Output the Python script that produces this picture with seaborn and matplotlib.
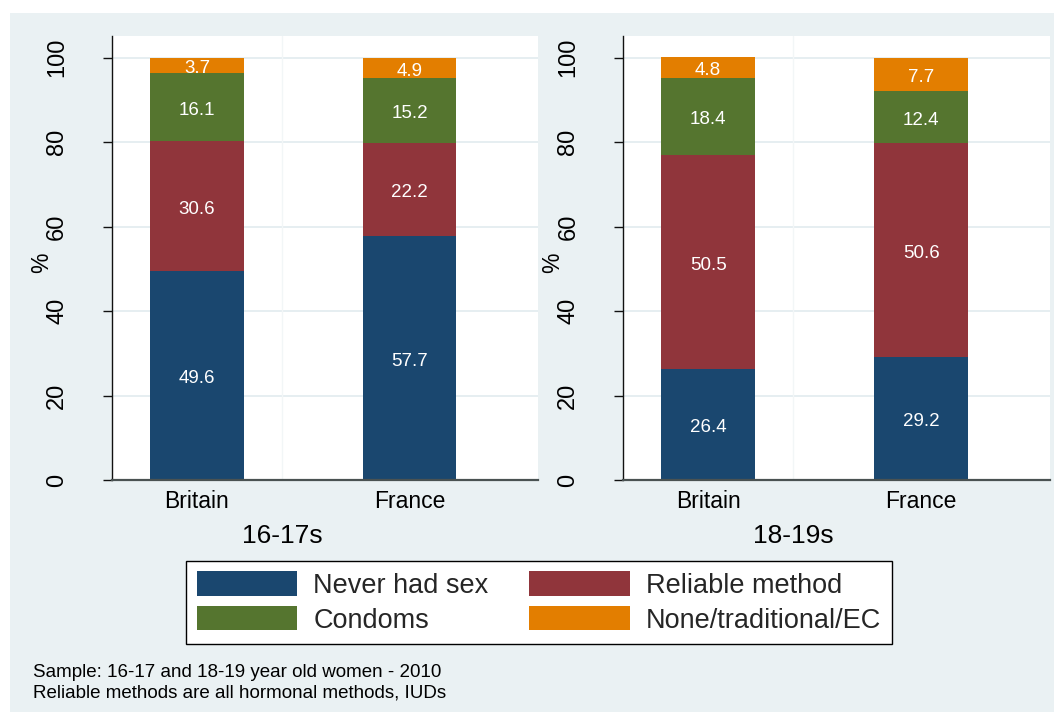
import numpy as np
import pandas as pd
import matplotlib
matplotlib.use("Agg")
import matplotlib.pyplot as plt
import matplotlib.transforms as mtransforms
from matplotlib.patches import Rectangle, Patch
import seaborn as sns

# ---------------- data ----------------
countries = ["Britain", "France"]
age_groups = ["16-17s", "18-19s"]
series_names = ["Never had sex", "Reliable method", "Condoms", "None/traditional/EC"]
never_had_sex = {"16-17s": [49.6, 57.7], "18-19s": [26.4, 29.2]}
reliable_method = {"16-17s": [30.6, 22.2], "18-19s": [50.5, 50.6]}
condoms = {"16-17s": [16.1, 15.2], "18-19s": [18.4, 12.4]}
none_trad_ec = {"16-17s": [3.7, 4.9], "18-19s": [4.8, 7.7]}
y_ticks = [0, 20, 40, 60, 80, 100]
footnotes = ["Sample: 16-17 and 18-19 year old women - 2010",
             "Reliable methods are all hormonal methods, IUDs"]

# ---------------- style ----------------
sns.set_theme(style="white")
plt.rcParams["font.family"] = ["Liberation Sans", "DejaVu Sans"]

colors = ["#1A476F", "#90353B", "#55752F", "#E37E00"]
BG = "#EAF1F3"
GRID = "#E6EEF1"

fig = plt.figure(figsize=(10.54, 7.15), dpi=100)
fig.patch.set_facecolor("white")
fig.add_artist(Rectangle((10 / 1054, 1 - 712 / 715), 1 - 10 / 1054, (712 - 12.7) / 715,
                         transform=fig.transFigure, facecolor=BG, edgecolor="none", zorder=-10))

axes_rects = [[112 / 1054, 1 - 480 / 715, 426 / 1054, 444.3 / 715],
              [623 / 1054, 1 - 480 / 715, 427 / 1054, 444.3 / 715]]

all_series = [never_had_sex, reliable_method, condoms, none_trad_ec]

for rect, grp in zip(axes_rects, age_groups):
    ax = fig.add_axes(rect)
    ax.set_facecolor("white")
    bottoms = np.zeros(len(countries))
    for name, ser, col in zip(series_names, all_series, colors):
        vals = np.array(ser[grp], dtype=float)
        df = pd.DataFrame({"country": countries, "value": vals})
        sns.barplot(data=df, x="country", y="value", order=countries, color=col,
                    saturation=1, width=0.44, bottom=bottoms, errorbar=None,
                    ax=ax, zorder=3, linewidth=0)
        for i, (v, b) in enumerate(zip(vals, bottoms)):
            ax.text(i, b + v / 2 - 0.8, f"{v:.1f}", color="white", ha="center",
                    va="center", fontsize=13.5, zorder=5)
        bottoms = bottoms + vals

    ax.set_xlim(-0.40, 1.605)
    ax.set_ylim(0, 105.2)
    ax.set_yticks(y_ticks)
    ax.set_yticklabels([str(t) for t in y_ticks])
    ax.grid(False)
    for t in y_ticks:
        ax.axhline(t, color=GRID, lw=1.4, zorder=1)
    ax.axvline(0.4, color="#F2F6F7", lw=1.0, zorder=1)

    for s in ["top", "right"]:
        ax.spines[s].set_visible(False)
    ax.spines["left"].set_color("#111111")
    ax.spines["left"].set_linewidth(1.0)
    ax.spines["bottom"].set_color("#4A5252")
    ax.spines["bottom"].set_linewidth(1.6)
    ax.spines["left"].set_zorder(6)
    ax.spines["bottom"].set_zorder(6)

    ax.tick_params(axis="y", left=True, length=6.5, width=1.0, color="#111111",
                   pad=25, labelsize=17, labelcolor="black", labelrotation=90)
    for lab in ax.get_yticklabels():
        lab.set_va("center")
    ax.tick_params(axis="x", bottom=False, length=0, pad=7, labelsize=16.5,
                   labelcolor="black")
    ax.set_xlabel("")
    ax.set_ylabel("%", fontsize=16.5, color="black", rotation=90)
    ax.yaxis.set_label_coords(-0.165, 0.49)
    ax.yaxis.label.set_va("center")
    ax.yaxis.label.set_ha("center")

    trans = mtransforms.blended_transform_factory(ax.transData, ax.transAxes)
    ax.text(0.4, -0.125, grp, transform=trans, ha="center", va="center",
            fontsize=19, color="black")

# legend filled row-wise like the reference (matplotlib fills column-wise)
order = [0, 2, 1, 3]
handles = [Patch(facecolor=colors[i], edgecolor="none") for i in order]
labels = [series_names[i] for i in order]
leg = fig.legend(handles, labels, ncol=2, loc="center",
                 bbox_to_anchor=(539 / 1054, 1 - 602.5 / 715),
                 fontsize=19.5, handlelength=3.7, handleheight=1.0,
                 handletextpad=0.6, columnspacing=1.5, labelspacing=0.27,
                 borderpad=0.4, fancybox=False, frameon=True, framealpha=1)
leg.get_frame().set_edgecolor("black")
leg.get_frame().set_linewidth(1.0)
leg.get_frame().set_facecolor("white")

fig.text(33 / 1054, 1 - 677 / 715, footnotes[0], fontsize=13.5, va="baseline", color="black")
fig.text(33 / 1054, 1 - 697 / 715, footnotes[1], fontsize=13.5, va="baseline", color="black")

fig.savefig("out.png", dpi=100, facecolor=fig.get_facecolor())
